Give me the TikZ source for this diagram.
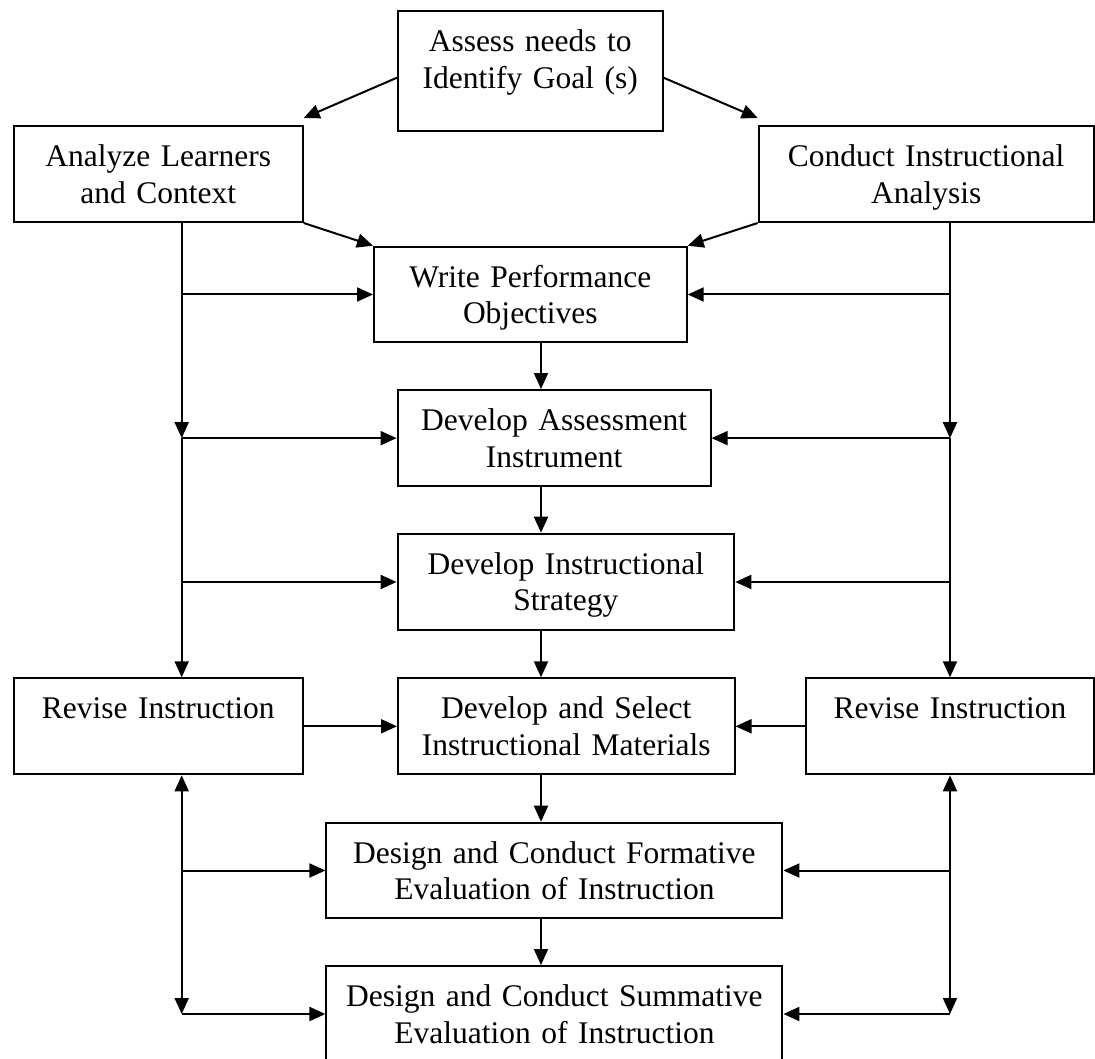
\documentclass[tikz,border=0pt]{standalone}
\usepackage{fontspec}
\setmainfont{Liberation Serif}
\usetikzlibrary{arrows.meta}

\begin{document}
\begin{tikzpicture}[x=1pt, y=-1pt,
  stepbox/.style={draw, line width=2pt, rectangle, inner sep=0pt,
    anchor=north west, align=center,
    font=\fontsize{31.5}{36.6}\selectfont, text height=40.6pt},
  arr/.style={line width=2pt, -{Triangle[length=16pt,width=14pt]}},
  arrtwo/.style={line width=2pt,
    {Triangle[length=16pt,width=14pt]}-{Triangle[length=16pt,width=14pt]}}
]
\useasboundingbox (0,0) rectangle (1095,1059);
\clip (0,0) rectangle (1095,1059);

% process boxes
\node[stepbox, text width=264.5pt, text depth=79.4pt] (assess) at (397,10)
  {Assess needs to\\Identify Goal (s)};
\node[stepbox, text width=289pt, text depth=55.4pt] (analyze) at (12.7,125)
  {Analyze Learners\\and Context};
\node[stepbox, text width=335pt, text depth=55.4pt] (conduct) at (757.7,125)
  {Conduct Instructional\\Analysis};
\node[stepbox, text width=312.7pt, text depth=55pt] (write) at (373,245.7)
  {Write Performance\\Objectives};
\node[stepbox, text width=313pt, text depth=55.7pt] (assessment) at (396.6,389)
  {Develop Assessment\\Instrument};
\node[stepbox, text width=336.7pt, text depth=56pt] (strategy) at (396.6,532.7)
  {Develop Instructional\\Strategy};
\node[stepbox, text width=289pt, text depth=55.4pt] (revL) at (12.7,677.3)
  {Revise Instruction};
\node[stepbox, text width=336.5pt, text depth=55.4pt] (select) at (397,677.3)
  {Develop and Select\\Instructional Materials};
\node[stepbox, text width=288pt, text depth=55.4pt] (revR) at (805,677.3)
  {Revise Instruction};
\node[stepbox, text width=456pt, text depth=55pt] (form) at (325.4,821.7)
  {Design and Conduct Formative\\Evaluation of Instruction};
\node[stepbox, text width=456pt, text depth=55.4pt] (summ) at (325.4,965)
  {Design and Conduct Summative\\Evaluation of Instruction};

% x positions of the side trunks and the central spine
\coordinate (lx) at (181.7,0);
\coordinate (rx) at (950,0);
\coordinate (cx) at (541,0);

% from the goal box to the two analysis boxes
\draw[arr] ([yshift=-6.7pt]assess.west) -- ([yshift=7pt]analyze.north east);
\draw[arr] ([yshift=-6.7pt]assess.east) -- ([yshift=7pt]conduct.north west);
\draw[arr] (analyze.south east) -- (write.north west);
\draw[arr] (conduct.south west) -- (write.north east);

% central spine
\draw[arr] (write.south -| cx) -- (assessment.north -| cx);
\draw[arr] (assessment.south -| cx) -- (strategy.north -| cx);
\draw[arr] (strategy.south -| cx) -- (select.north -| cx);
\draw[arr] (select.south -| cx) -- (form.north -| cx);
\draw[arr] (form.south -| cx) -- (summ.north -| cx);

% left trunk
\draw[arr] (analyze.south -| lx) -- (lx |- assessment.west);
\draw[arr] (lx |- assessment.west) -- (lx |- revL.north);
\draw[arr] (lx |- write.west) -- (write.west);
\draw[arr] (lx |- assessment.west) -- (assessment.west);
\draw[arr] (lx |- strategy.west) -- (strategy.west);
\draw[arr] (revL.east) -- (select.west);
\draw[arrtwo] (lx |- revL.south) -- (lx |- summ.west);
\draw[arr] (lx |- form.west) -- (form.west);
\draw[arr] (lx |- summ.west) -- (summ.west);

% right trunk
\draw[arr] (conduct.south -| rx) -- (rx |- assessment.east);
\draw[arr] (rx |- assessment.east) -- (rx |- revR.north);
\draw[arr] (rx |- write.east) -- (write.east);
\draw[arr] (rx |- assessment.east) -- (assessment.east);
\draw[arr] (rx |- strategy.east) -- (strategy.east);
\draw[arr] (revR.west) -- (select.east);
\draw[arrtwo] (rx |- revR.south) -- (rx |- summ.east);
\draw[arr] (rx |- form.east) -- (form.east);
\draw[arr] (rx |- summ.east) -- (summ.east);
\end{tikzpicture}
\end{document}
